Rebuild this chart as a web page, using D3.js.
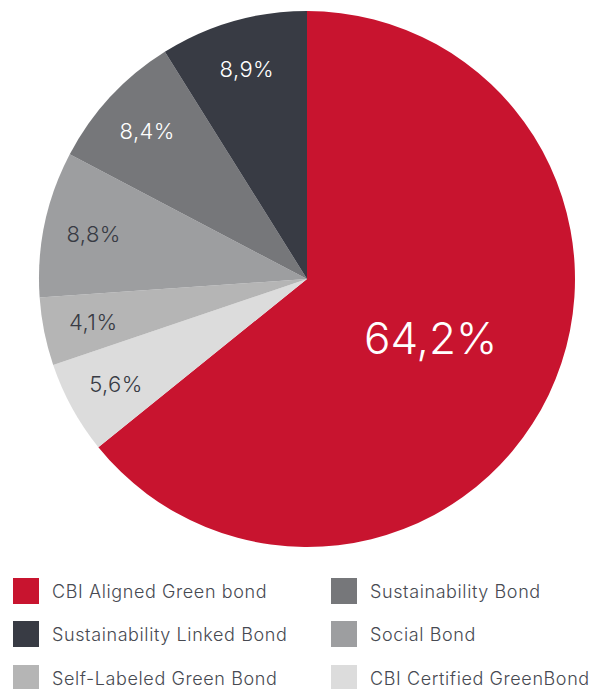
<!DOCTYPE html>
<html>
<head>
<meta charset="utf-8">
<script src="https://cdn.jsdelivr.net/npm/d3@7"></script>
<style>
  html, body { margin: 0; padding: 0; background: #fff; }
  svg { display: block; }
  text { font-family: Inter, "Open Sans", sans-serif; }
</style>
</head>
<body>
<svg id="chart" width="599" height="689"></svg>
<script>
// Bond type shares, in drawing order (clockwise from 12 o'clock)
const categories = [
  "CBI Aligned Green bond",
  "CBI Certified GreenBond",
  "Self-Labeled Green Bond",
  "Social Bond",
  "Sustainability Bond",
  "Sustainability Linked Bond"
];
const values = [64.2, 5.6, 4.1, 8.8, 8.4, 8.9];
const colors = ["#C8142F", "#DCDCDC", "#B5B5B5", "#9D9EA0", "#76777A", "#383B44"];
const labelColors = ["#ffffff", "#383B44", "#383B44", "#383B44", "#ffffff", "#ffffff"];

// Legend order (two columns, three rows)
const legendOrder = [
  "CBI Aligned Green bond", "Sustainability Bond",
  "Sustainability Linked Bond", "Social Bond",
  "Self-Labeled Green Bond", "CBI Certified GreenBond"
];

const data = categories.map((c, i) => ({ name: c, value: values[i], color: colors[i], labelColor: labelColors[i] }));

const svg = d3.select("#chart");
const cx = 307, cy = 279, R = 268;

const pie = d3.pie().sort(null).value(d => d.value);
const arcs = pie(data);
const arc = d3.arc().innerRadius(0).outerRadius(R);
const smallLabelArc = d3.arc().innerRadius(218).outerRadius(218);
const bigLabelArc = d3.arc().innerRadius(137).outerRadius(137);

const g = svg.append("g").attr("transform", `translate(${cx},${cy})`);

g.selectAll("path.slice")
  .data(arcs)
  .join("path")
  .attr("class", "slice")
  .attr("d", arc)
  .attr("fill", d => d.data.color);

const fmt = v => v.toFixed(1).replace(".", ",") + "%";

g.selectAll("text.val")
  .data(arcs)
  .join("text")
  .attr("class", "val")
  .attr("transform", d => {
    const p = (d.data.value > 50 ? bigLabelArc : smallLabelArc).centroid(d);
    return `translate(${p[0]},${p[1]})`;
  })
  .attr("text-anchor", "middle")
  .attr("dominant-baseline", "central")
  .attr("font-size", d => d.data.value > 50 ? 44 : 22)
  .attr("letter-spacing", d => d.data.value > 50 ? 0 : 0.4)
  .attr("font-weight", 300)
  .attr("fill", d => d.data.labelColor)
  .text(d => fmt(d.data.value));

// Legend
const colorOf = new Map(data.map(d => [d.name, d.color]));
const legend = svg.append("g");
const colX = [13, 331], rowY = [591, 634, 678];

legendOrder.forEach((name, i) => {
  const x = colX[i % 2], y = rowY[Math.floor(i / 2)];
  const item = legend.append("g").attr("transform", `translate(${x},${y})`);
  item.append("rect")
    .attr("x", 0).attr("y", -13)
    .attr("width", 26).attr("height", 26)
    .attr("fill", colorOf.get(name));
  item.append("text")
    .attr("x", 39).attr("y", 0)
    .attr("dominant-baseline", "central")
    .attr("font-size", 18)
    .attr("letter-spacing", 0.6)
    .attr("font-weight", 300)
    .attr("fill", "#474A52")
    .text(name);
});
</script>
</body>
</html>
